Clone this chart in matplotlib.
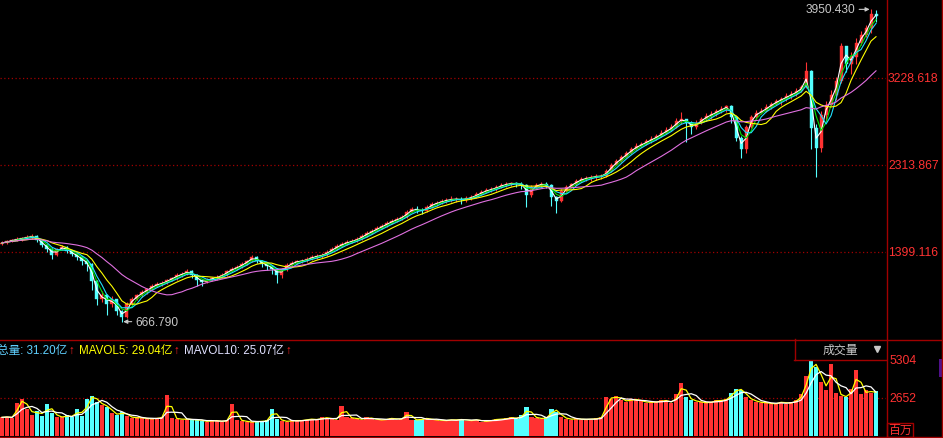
import numpy as np
import pandas as pd
import matplotlib
matplotlib.use("Agg")
import matplotlib.pyplot as plt
from matplotlib.lines import Line2D
from matplotlib.patches import Rectangle
from matplotlib.transforms import blended_transform_factory

plt.rcParams['font.family'] = ['Liberation Sans', 'Noto Sans CJK SC', 'DejaVu Sans']

FIG_W, FIG_H = 943, 439

# price series, one candle per ~4 weeks
first_open = 1480
close = [1494, 1515, 1525, 1536, 1546, 1557, 1567, 1525, 1473, 1431,
         1368, 1431, 1452, 1410, 1378, 1347, 1305, 1273, 1094, 905,
         947, 852, 905, 779, 716, 852, 905, 947, 979, 1010,
         1042, 1063, 1073, 1105, 1126, 1158, 1168, 1200, 1158, 1105,
         1084, 1105, 1126, 1137, 1158, 1200, 1221, 1242, 1273, 1305,
         1347, 1305, 1273, 1252, 1221, 1158, 1221, 1263, 1284, 1305,
         1305, 1326, 1347, 1357, 1368, 1399, 1431, 1462, 1483, 1504,
         1515, 1536, 1567, 1599, 1620, 1651, 1672, 1704, 1725, 1746,
         1767, 1820, 1851, 1841, 1830, 1872, 1904, 1914, 1935, 1946,
         1956, 1956, 1946, 1967, 1977, 2009, 2030, 2051, 2062, 2083,
         2104, 2114, 2125, 2114, 2104, 1998, 2083, 2104, 2114, 2104,
         1977, 1935, 2041, 2083, 2114, 2146, 2167, 2177, 2188, 2198,
         2198, 2251, 2314, 2356, 2398, 2440, 2482, 2514, 2535, 2566,
         2587, 2619, 2650, 2682, 2713, 2776, 2797, 2755, 2713, 2755,
         2797, 2829, 2850, 2882, 2903, 2934, 2819, 2600, 2480, 2713,
         2819, 2861, 2882, 2924, 2955, 2987, 3008, 3039, 3060, 3092,
         3134, 3302, 2700, 2490, 2840, 2950, 3050, 3200, 3560, 3380,
         3450, 3600, 3680, 3750, 3900, 3880]
high = [1510, 1530, 1540, 1555, 1562, 1576, 1585, 1575, 1530, 1480,
        1440, 1445, 1470, 1460, 1415, 1385, 1355, 1310, 1280, 1110,
        990, 960, 935, 910, 790, 870, 925, 960, 1000, 1025,
        1065, 1080, 1090, 1120, 1140, 1175, 1190, 1220, 1215, 1170,
        1120, 1125, 1140, 1155, 1175, 1215, 1240, 1260, 1295, 1320,
        1370, 1355, 1315, 1285, 1265, 1230, 1235, 1280, 1300, 1320,
        1325, 1345, 1365, 1375, 1390, 1420, 1450, 1480, 1500, 1525,
        1535, 1555, 1590, 1620, 1645, 1675, 1695, 1730, 1750, 1770,
        1790, 1845, 1875, 1880, 1860, 1895, 1925, 1940, 1960, 1970,
        1985, 1980, 1975, 1990, 2000, 2030, 2055, 2075, 2085, 2105,
        2125, 2135, 2135, 2135, 2130, 2110, 2100, 2120, 2130, 2130,
        2110, 1990, 2060, 2100, 2125, 2165, 2185, 2195, 2205, 2215,
        2215, 2270, 2340, 2380, 2420, 2465, 2505, 2540, 2560, 2590,
        2615, 2645, 2680, 2710, 2750, 2810, 2872, 2800, 2780, 2790,
        2820, 2860, 2880, 2905, 2930, 2940, 2945, 2830, 2620, 2730,
        2840, 2890, 2910, 2955, 2980, 3010, 3030, 3070, 3090, 3120,
        3160, 3393, 3310, 2740, 2880, 2990, 3100, 3240, 3600, 3560,
        3500, 3650, 3720, 3790, 3950.43, 3940]
low = [1470, 1485, 1505, 1510, 1520, 1535, 1540, 1505, 1450, 1400,
       1330, 1355, 1420, 1390, 1355, 1320, 1260, 1200, 1000, 840,
       870, 741, 820, 740, 666.79, 700, 840, 890, 930, 960,
       1000, 1030, 1040, 1060, 1090, 1110, 1140, 1160, 1130, 1045,
       1040, 1070, 1090, 1110, 1125, 1150, 1190, 1210, 1235, 1265,
       1295, 1280, 1240, 1210, 1170, 1075, 1130, 1200, 1250, 1270,
       1280, 1290, 1315, 1330, 1340, 1360, 1395, 1425, 1450, 1470,
       1490, 1505, 1530, 1560, 1590, 1615, 1640, 1665, 1695, 1715,
       1735, 1760, 1815, 1810, 1795, 1815, 1860, 1880, 1900, 1915,
       1925, 1920, 1905, 1925, 1945, 1965, 1995, 2015, 2030, 2045,
       2070, 2080, 2090, 2080, 2060, 1870, 1980, 2060, 2080, 2070,
       1880, 1812, 1920, 2030, 2070, 2100, 2130, 2145, 2150, 2160,
       2165, 2190, 2245, 2310, 2350, 2395, 2430, 2470, 2500, 2525,
       2550, 2580, 2610, 2640, 2670, 2700, 2740, 2560, 2640, 2690,
       2740, 2780, 2800, 2830, 2860, 2870, 2760, 2570, 2390, 2445,
       2700, 2800, 2850, 2870, 2900, 2940, 2950, 2990, 3010, 3040,
       3080, 3120, 2480, 2191, 2450, 2780, 2930, 3000, 3180, 3290,
       3270, 3380, 3580, 3660, 3700, 3820]

# volume in millions (百万)
volume = [1300, 1350, 1250, 2300, 2550, 1900, 1500, 1750, 1400, 2200,
          1600, 1350, 1300, 1450, 1300, 1900, 1400, 2600, 2800, 2400,
          2150, 2050, 1600, 1450, 1700, 1400, 1250, 1300, 1250, 1200,
          1200, 1250, 1300, 2850, 1250, 1200, 1150, 1200, 1100, 1150,
          1050, 1000, 1100, 1050, 1000, 1100, 2200, 1150, 1050, 1000,
          950, 1050, 1000, 1100, 1900, 1200, 1050, 1000, 1100, 1050,
          1100, 1150, 1200, 1100, 1300, 1250, 1200, 1150, 2100, 1300,
          1250, 1200, 1150, 1300, 1200, 1150, 1100, 1200, 1250, 1150,
          1200, 1700, 1150, 1100, 1200, 1250, 1100, 1150, 1050, 1100,
          1150, 1100, 1200, 1050, 1100, 1150, 1000, 1050, 1100, 1200,
          1150, 1250, 1300, 1200, 1450, 2000, 1350, 1250, 1200, 1300,
          1900, 1700, 1300, 1200, 1150, 1250, 1100, 1200, 1150, 1250,
          1300, 2700, 2600, 2800, 2500, 2400, 2600, 2500, 2450, 2300,
          2400, 2350, 2500, 2450, 2300, 2900, 3700, 2700, 2500, 2400,
          2350, 2300, 2400, 2500, 2450, 2600, 3000, 3300, 3200, 2700,
          2500, 2400, 2300, 2350, 2200, 2300, 2400, 2250, 2350, 2500,
          2900, 4200, 5200, 4800, 3800, 3200, 5000, 3000, 2800, 2700,
          3300, 4600, 2900, 3200, 3000, 3120]

price_ticks = [1399.116, 2313.867, 3228.618]
vol_ticks = [2652, 5304]

ma_periods = (2, 3, 4, 7, 16)
ma_colours = ("#ffffff", "#00e000", "#20e0ff", "#ffff00", "#e070e0")

RED_LINE = "#a00000"
LABEL_RED = "#ff3232"
UP = "#ff3232"
DOWN = "#54ffff"
GREY = "#c8c8c8"


def px_axes(fig, x0, y0, x1, y1):
    """ axes placed by pixel box, y measured from the top """
    ax = fig.add_axes([x0 / FIG_W, 1 - y1 / FIG_H, (x1 - x0) / FIG_W, (y1 - y0) / FIG_H])
    ax.set_facecolor("black")
    for s in ax.spines.values():
        s.set_visible(False)
    ax.set_xticks([])
    ax.set_yticks([])
    return ax


def px_line(fig, x0, y0, x1, y1, **kw):
    fig.add_artist(Line2D([x0 / FIG_W, x1 / FIG_W], [1 - y0 / FIG_H, 1 - y1 / FIG_H],
                          transform=fig.transFigure, **kw))


def px_text(fig, x, y, s, **kw):
    fig.text(x / FIG_W, 1 - y / FIG_H, s, **kw)


c = np.array(close, dtype=float)
o = np.r_[first_open, c[:-1]]
h = np.maximum(np.array(high, dtype=float), np.maximum(o, c))
l = np.minimum(np.array(low, dtype=float), np.minimum(o, c))
v = np.array(volume, dtype=float)
n = len(c)
idx = np.arange(n)
up = c >= o

fig = plt.figure(figsize=(FIG_W / 100, FIG_H / 100), dpi=100, facecolor="black")

# ---- price panel
ax = px_axes(fig, 0, 0, 886, 340)
ax.set_xlim(-0.4, 177.0)
ax.set_ylim(484.4, 4059.3)
for t in price_ticks:
    ax.axhline(t, color=RED_LINE, lw=0.9, ls=(0, (1, 2)))

cols = np.where(up, UP, DOWN)
ax.vlines(idx, l, h, colors=cols, lw=0.8, zorder=2)
body_lo = np.minimum(o, c)
body_h = np.maximum(np.abs(c - o), 4)
ax.bar(idx, body_h, bottom=body_lo, width=0.6, color=cols, edgecolor=cols, lw=0.3, zorder=3)

s = pd.Series(c)
for p, col in zip(ma_periods, ma_colours):
    ax.plot(idx, s.rolling(p, min_periods=1).mean(), color=col, lw=0.8, zorder=4)

i_hi = int(np.argmax(h))
i_lo = int(np.argmin(l))
ax.annotate("%.3f" % h[i_hi], xy=(i_hi, h[i_hi]), xytext=(-16, 0), textcoords="offset pixels",
            ha="right", va="center", color=GREY, fontsize=8.6,
            arrowprops=dict(arrowstyle="-|>", color=GREY, lw=0.8, shrinkA=1, shrinkB=1, mutation_scale=6))
ax.annotate("%.3f" % l[i_lo], xy=(i_lo, l[i_lo]), xytext=(14, 0), textcoords="offset pixels",
            ha="left", va="center", color=GREY, fontsize=8.6,
            arrowprops=dict(arrowstyle="-|>", color=GREY, lw=0.8, shrinkA=1, shrinkB=1, mutation_scale=6))

tr = blended_transform_factory(ax.transAxes, ax.transData)
for t in price_ticks:
    ax.text(1 + 2 / 886, t, "%.3f" % t, transform=tr, ha="left", va="center",
            color=LABEL_RED, fontsize=8.8, clip_on=False)

# ---- volume panel
axv = px_axes(fig, 0, 361, 886, 437)
axv.set_xlim(-0.4, 177.0)
axv.set_ylim(0, 5304)
axv.axhline(vol_ticks[0], color=RED_LINE, lw=0.9, ls=(0, (1, 2)))
axv.bar(idx, v, width=0.85, color=cols, lw=0, zorder=2)
vs = pd.Series(v)
axv.plot(idx, vs.rolling(2, min_periods=1).mean(), color="#ffff00", lw=0.9, zorder=3)
axv.plot(idx, vs.rolling(4, min_periods=1).mean(), color="#ffffff", lw=0.9, zorder=3)
trv = blended_transform_factory(axv.transAxes, axv.transData)
for t in vol_ticks:
    axv.text(1 + 3 / 886, t, "%d" % t, transform=trv, ha="left", va="center",
             color=LABEL_RED, fontsize=8.8, clip_on=False)

# ---- frame lines
px_line(fig, 886.5, 0, 886.5, 439, color=RED_LINE, lw=1.0)
px_line(fig, 942, 0, 942, 439, color=RED_LINE, lw=1.0)
px_line(fig, 0, 340.5, 943, 340.5, color=RED_LINE, lw=1.0)
px_line(fig, 0, 438, 943, 438, color=RED_LINE, lw=1.0)
px_line(fig, 794.5, 340, 794.5, 361, color=RED_LINE, lw=1.0)
px_line(fig, 794, 361, 886, 361, color=RED_LINE, lw=1.0)
fig.add_artist(Rectangle((887 / FIG_W, 1 - 438 / FIG_H), 26 / FIG_W, 14 / FIG_H,
                         transform=fig.transFigure, fill=False, edgecolor=RED_LINE, lw=1.0))
fig.add_artist(Rectangle((939 / FIG_W, 1 - 378 / FIG_H), 4 / FIG_W, 18 / FIG_H,
                         transform=fig.transFigure, color="#50108a", lw=0))

# ---- info row
info_y = 351
px_text(fig, 67, info_y, "总量: 31.20亿", ha="right", va="center", color="#5fd0ff", fontsize=8.4)
px_text(fig, 172, info_y, "MAVOL5: 29.04亿", ha="right", va="center", color="#ffff00", fontsize=8.4)
px_text(fig, 284, info_y, "MAVOL10: 25.07亿", ha="right", va="center", color="#e0e0ff", fontsize=8.4)
for ax_x in (68, 173, 285):
    px_text(fig, ax_x, info_y, "↑", ha="left", va="center", color="#ff2020", fontsize=8.4)

px_text(fig, 840, 351, "成交量", ha="center", va="center", color=GREY, fontsize=8.6)
fig.add_artist(Line2D([877 / FIG_W], [1 - 350 / FIG_H], transform=fig.transFigure,
                      marker="v", markersize=4.5, color=GREY, lw=0))
px_text(fig, 900, 431, "百万", ha="center", va="center", color=LABEL_RED, fontsize=8.6)

fig.savefig("out.png", dpi=100, facecolor="black")
